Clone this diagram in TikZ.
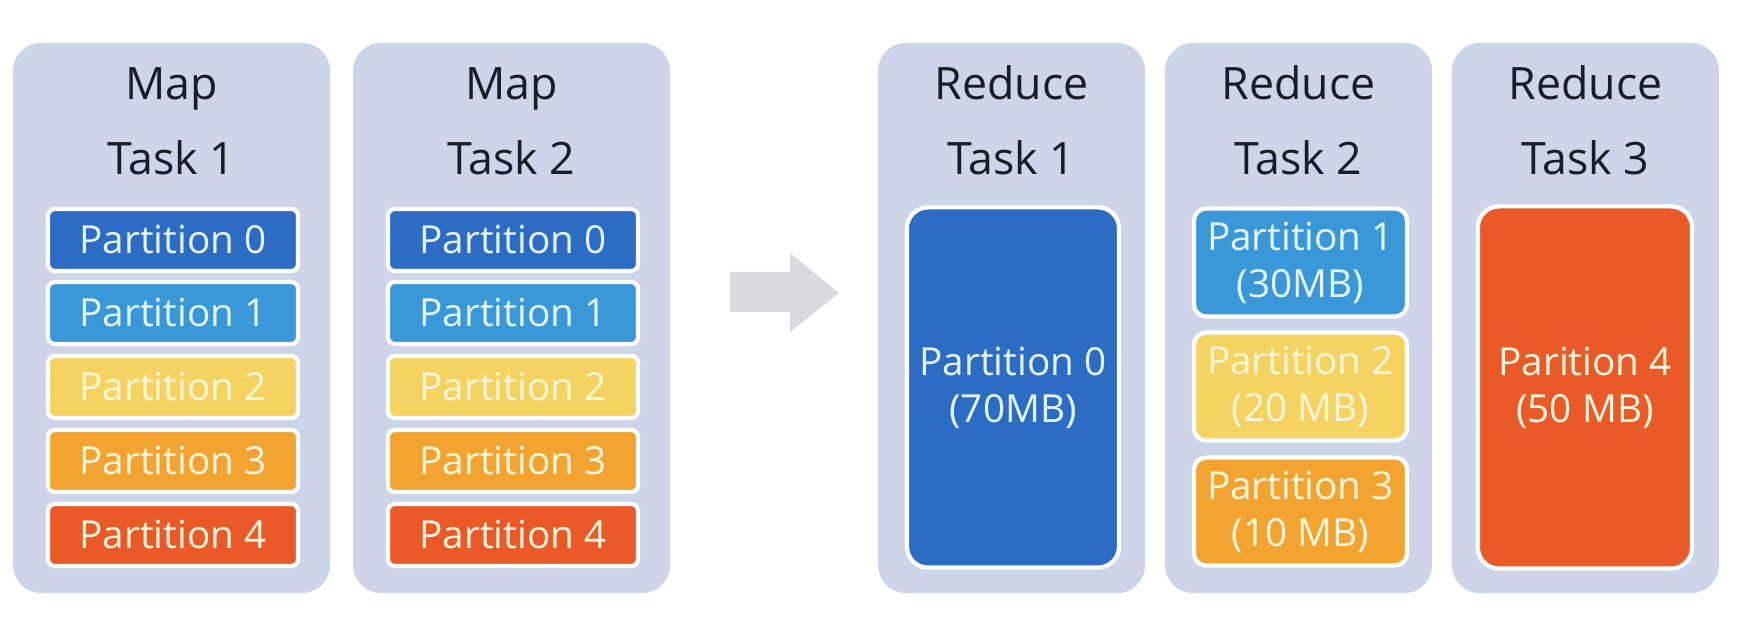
\documentclass[tikz,border=0pt]{standalone}
\usepackage{fontspec}
\setmainfont{Open Sans}
\usetikzlibrary{positioning}

\definecolor{panelbg}{RGB}{206,213,232}
\definecolor{partzero}{RGB}{44,108,196}
\definecolor{partone}{RGB}{58,151,216}
\definecolor{parttwo}{RGB}{245,211,96}
\definecolor{partthree}{RGB}{243,164,48}
\definecolor{partfour}{RGB}{234,90,40}
\definecolor{coldtext}{RGB}{228,245,255}
\definecolor{warmtext}{RGB}{255,246,222}
\definecolor{arrowgray}{RGB}{217,218,222}
\definecolor{titletext}{RGB}{26,27,40}

\tikzset{
  panel/.style={rectangle, rounded corners=8pt, fill=panelbg, minimum height=5.5cm, inner sep=0pt},
  tasktitle/.style={anchor=base, inner sep=0pt, text=titletext, font=\fontsize{12.7}{15}\selectfont},
  partbox/.style={rectangle, draw=white, line width=1.2pt, inner sep=0pt, align=center,
    font=\fontsize{11}{13.4}\selectfont},
}

\begin{document}
\begin{tikzpicture}[x=0.01cm, y=-0.01cm]
    \useasboundingbox (0,0) rectangle (1750,622);
    % Map tasks
    \foreach \px [count=\i] in {171.5, 511.5} {
      \node (map\i) [panel, minimum width=3.17cm] at (\px,318) {};
      \node (map\i-name) [tasktitle] at (\px,100) {Map};
      \node (map\i-task) [tasktitle] at (\px,175) {Task \i};
      \foreach \c/\t/\y [count=\k from 0] in {partzero/coldtext/240, partone/coldtext/313,
          parttwo/warmtext/387, partthree/warmtext/461, partfour/warmtext/535} {
        \node (map\i-part\k) [partbox, fill=\c, text=\t, rounded corners=2pt,
          minimum width=2.50cm, minimum height=0.62cm] at (\px+1.5,\y) {Partition \k};
      }
    }
    % Shuffle arrow
    \fill[arrowgray] (730,272) -- (790,272) -- (790,253) -- (839,293) -- (790,332)
      -- (790,312) -- (730,312) -- cycle;
    % Reduce tasks
    \foreach \px [count=\i] in {1011.5, 1298.5, 1585.5} {
      \node (red\i) [panel, minimum width=2.67cm] at (\px,318) {};
      \node (red\i-name) [tasktitle] at (\px,100) {Reduce};
      \node (red\i-task) [tasktitle] at (\px,175) {Task \i};
    }
    \node (red1-part0) [partbox, fill=partzero, text=coldtext, rounded corners=6pt,
      minimum width=2.12cm, minimum height=3.60cm] at (1013,387.5) {Partition 0\\(70MB)};
    \node (red2-part1) [partbox, fill=partone, text=coldtext, rounded corners=3.5pt,
      minimum width=2.13cm, minimum height=1.08cm] at (1300.5,262.5) {Partition 1\\(30MB)};
    \node (red2-part2) [partbox, fill=parttwo, text=warmtext, rounded corners=3.5pt,
      minimum width=2.13cm, minimum height=1.08cm] at (1300.5,386.5) {Partition 2\\(20 MB)};
    \node (red2-part3) [partbox, fill=partthree, text=warmtext, rounded corners=3.5pt,
      minimum width=2.13cm, minimum height=1.08cm] at (1300.5,511.5) {Partition 3\\(10 MB)};
    \node (red3-part4) [partbox, fill=partfour, text=warmtext, rounded corners=6pt,
      minimum width=2.14cm, minimum height=3.62cm] at (1585,387.5) {Parition 4\\(50 MB)};
\end{tikzpicture}
\end{document}
